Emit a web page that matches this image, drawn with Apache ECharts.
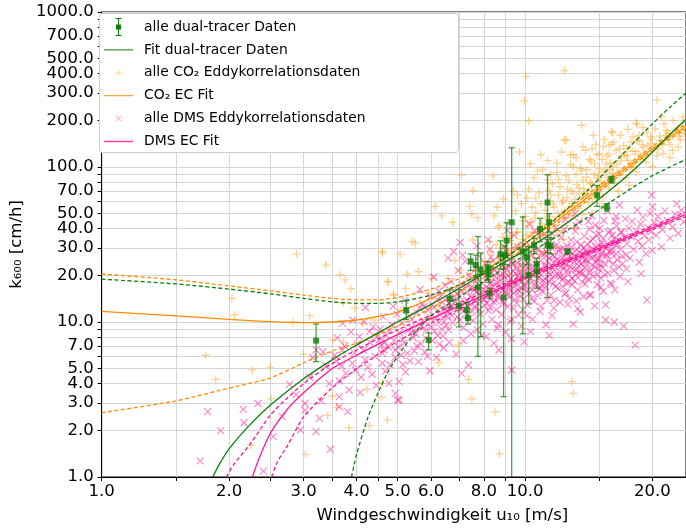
<!DOCTYPE html>
<html>
<head>
<meta charset="utf-8">
<script src="https://cdn.jsdelivr.net/npm/echarts@6/dist/echarts.min.js"></script>
<style>
  html, body { margin: 0; padding: 0; background: #fff; }
  #chart { width: 686px; height: 529px; }
</style>
</head>
<body>
<div id="chart"></div>
<script>
// --- Achsen: Ticks und Beschriftungen ---
const xTickVals = [1, 1.5, 2, 2.5, 3, 3.5, 4, 4.5, 5, 6, 7, 8, 9, 10, 15, 20]
const xLabelVals = [1, 2, 3, 4, 5, 6, 8, 10, 20]
const yTickVals = [1, 2, 3, 4, 5, 6, 7, 8, 9, 10, 20, 30, 40, 50, 60, 70, 80, 90,
  100, 200, 300, 400, 500, 600, 700, 800, 900, 1000]
const yLabelVals = [1, 2, 3, 4, 5, 7, 10, 20, 30, 40, 50, 70, 100, 200, 300, 400, 500, 700, 1000]

// --- dual-tracer Messungen: u10, k600, untere / obere Fehlergrenze ---
const dtU  = [3.21, 5.24, 5.92, 6.64, 6.98, 7.28, 7.33, 7.44, 7.65, 7.74, 7.86, 8.17, 8.2, 8.24, 8.75, 8.9, 8.97, 9.05, 9.3, 9.88, 10.1, 10.2, 10.5, 10.66, 10.66, 10.85, 11.3, 11.4, 11.3, 11.5, 12.6, 14.8, 15.6, 16.0]
const dtK  = [7.58, 11.9, 7.66, 14.1, 12.7, 12.0, 10.6, 24.6, 23.3, 16.7, 21.8, 22.5, 20.3, 15.3, 27.4, 14.4, 27.0, 33.5, 44.0, 28.5, 26.1, 20.1, 31.3, 23.6, 21.3, 39.8, 59.0, 44.0, 31.2, 31.0, 28.5, 65.8, 55.0, 83.0]
const dtLo = [5.55, 10.4, 6.6, 12.3, 9.3, 10.6, 9.7, 21.5, 20.0, 6.0, 8.05, 18.7, 18.0, 14.2, 22.0, 3.3, 23.5, 26.0, 0.5, 8.4, 23.5, 13.1, 27.5, 16.5, 19.5, 33.0, 14.4, 38.0, 28.0, 27.5, 27.5, 55.7, 52.0, 79.0]
const dtHi = [9.7, 13.7, 8.5, 16.1, 16.1, 13.3, 11.6, 27.5, 27.0, 35.6, 27.9, 24.5, 22.5, 16.5, 33.4, 27.0, 31.0, 43.6, 133, 47.6, 29.0, 30.6, 34.6, 25.8, 23.5, 46.6, 89.0, 50.0, 34.0, 35.0, 29.5, 76.0, 58.0, 87.0]

// --- Fitkurven ---
const fitDt = [[1.83, 1.0], [1.9, 1.22], [2.0, 1.52], [2.25, 2.2], [2.5, 2.9], [3.0, 4.3], [3.5, 5.7], [4.0, 7.1], [4.5, 8.5], [5.0, 10.0], [6.0, 13.0], [7.0, 16.5], [8.0, 20.5], [9.0, 24.5], [10.0, 29.0], [12.0, 40.0], [14.0, 54.0], [16.0, 72.0], [18.0, 95.0], [20.0, 125], [22.0, 162], [24.0, 203]]
const fitDtHi = [[1.0, 18.9], [1.5, 17.6], [2.0, 16.3], [2.5, 15.2], [3.0, 14.2], [3.5, 13.5], [4.0, 13.2], [4.5, 13.2], [5.0, 13.5], [6.0, 14.9], [7.0, 17.4], [8.0, 21.0], [9.0, 26.0], [10.0, 32.0], [12.0, 48.0], [14.0, 70.0], [16.0, 102], [18.0, 142], [20.0, 190], [22.0, 243], [24.0, 300]]
const fitDtLo = [[3.89, 1.0], [3.95, 1.2], [4.0, 1.4], [4.25, 2.4], [4.5, 3.5], [4.75, 4.8], [5.0, 6.0], [5.5, 8.6], [6.0, 11.0], [7.0, 14.5], [8.0, 18.3], [9.0, 22.5], [10.0, 27.0], [12.0, 36.0], [14.0, 47.0], [16.0, 60.0], [18.0, 74.0], [20.0, 88.0], [22.0, 100], [24.0, 112]]

const fitCo2 = [[1.0, 11.7], [1.5, 10.95], [2.0, 10.4], [2.5, 10.05], [3.0, 9.92], [3.5, 10.0], [4.0, 10.3], [5.0, 11.6], [6.0, 14.2], [7.0, 17.4], [8.0, 21.4], [9.0, 26.3], [10.0, 32.0], [12.0, 46.0], [14.0, 63.0], [16.0, 83.0], [18.0, 106], [20.0, 131], [22.0, 157], [24.0, 182]]
const fitCo2Hi = [[1.0, 20.4], [1.5, 18.7], [2.0, 17.1], [2.5, 15.9], [3.0, 14.9], [3.5, 14.2], [4.0, 13.9], [4.5, 13.9], [5.0, 14.4], [6.0, 16.3], [7.0, 19.1], [8.0, 23.0], [9.0, 28.0], [10.0, 34.0], [12.0, 48.5], [14.0, 66.0], [16.0, 86.5], [18.0, 110], [20.0, 136], [22.0, 163], [24.0, 189]]
const fitCo2Lo = [[1.0, 2.6], [1.5, 3.1], [2.0, 3.75], [2.5, 4.35], [3.0, 5.45], [3.5, 6.5], [4.0, 7.3], [5.0, 9.4], [6.0, 12.3], [7.0, 15.6], [8.0, 19.8], [9.0, 24.6], [10.0, 30.0], [12.0, 44.0], [14.0, 60.5], [16.0, 80.0], [18.0, 102.5], [20.0, 127], [22.0, 152], [24.0, 176]]

const fitDms = [[2.27, 1.0], [2.35, 1.3], [2.5, 1.9], [2.75, 2.75], [3.0, 3.5], [3.5, 5.0], [4.0, 6.1], [4.5, 7.2], [5.0, 8.3], [6.0, 10.5], [7.0, 12.7], [8.0, 14.9], [9.0, 17.2], [10.0, 19.5], [12.0, 23.6], [14.0, 27.8], [16.0, 32.0], [18.0, 36.3], [20.0, 40.5], [22.0, 45.0], [24.0, 49.5]]
const fitDmsHi = [[1.97, 1.0], [2.05, 1.2], [2.25, 1.65], [2.5, 2.5], [2.75, 3.25], [3.0, 4.0], [3.5, 5.4], [4.0, 6.6], [4.5, 7.8], [5.0, 8.9], [6.0, 11.1], [7.0, 13.3], [8.0, 15.5], [9.0, 17.8], [10.0, 20.1], [12.0, 24.3], [14.0, 28.6], [16.0, 32.9], [18.0, 37.3], [20.0, 41.7], [22.0, 46.4], [24.0, 51.2]]
const fitDmsLo = [[2.52, 1.0], [2.6, 1.25], [2.75, 1.6], [3.0, 2.44], [3.5, 3.75], [4.0, 5.0], [4.5, 6.2], [5.0, 7.5], [6.0, 9.8], [7.0, 12.1], [8.0, 14.4], [9.0, 16.7], [10.0, 19.0], [12.0, 23.0], [14.0, 27.1], [16.0, 31.2], [18.0, 35.4], [20.0, 39.5], [22.0, 43.8], [24.0, 48.0]]

// --- CO2 Eddykorrelationsdaten [u10, k600] ---
const co2Eddy = [
  [1.76, 6.1], [1.86, 4.27], [2.03, 14.2], [2.06, 11.1], [2.27, 4.9], [2.5, 5.1], [2.52, 3.19], [2.25, 1.6], [2.83, 10.0], [2.89, 27.4],
  [3.0, 6.2], [3.03, 1.4], [3.1, 11.0], [3.39, 23.3], [3.42, 2.5], [3.51, 3.33], [3.59, 2.82], [3.51, 7.66], [3.65, 20.1], [3.72, 13.3],
  [3.72, 7.45], [3.76, 18.7], [3.84, 2.08], [3.88, 16.4], [3.96, 12.3], [4.13, 9.8], [4.23, 3.68], [4.29, 2.14], [4.4, 10.3], [4.58, 3.27],
  [4.6, 27.8], [4.6, 4.02], [4.73, 2.33], [4.73, 18.2], [4.76, 18.2], [4.89, 15.1], [4.9, 14.9], [7.49, 3.19], [8.5, 2.64], [8.7, 1.41],
  [13.0, 3.46], [12.9, 4.12], [7.35, 4.27], [6.25, 5.46], [6.96, 7.1],
  [12.4, 419], [10.05, 383], [9.96, 267], [10.2, 198], [13.6, 186], [20.5, 270], [18.4, 189], [16.1, 167], [7.08, 88.6], [8.4, 87.6],
  [7.53, 70.5], [9.7, 125], [10.3, 105], [10.7, 94], [11.9, 106], [12.4, 149], [13.7, 135], [14.4, 131], [15.3, 135], [17.4, 131],
  [18.6, 149], [21.2, 122], [23.0, 135], [13.0, 120], [14.3, 109], [15.9, 106], [16.7, 131], [18.0, 157], [19.8, 157], [21.6, 172], [23.2, 165],
  [6.14, 55.7], [6.36, 48.4], [6.75, 44], [7.4, 55.7], [7.49, 49.7], [7.74, 47.1], [8.45, 48.4], [8.7, 42], [9.6, 66], [10.1, 63],
  [10.6, 63], [11.3, 82.6], [12.1, 74.6], [13.0, 67.6], [13.7, 64.4], [5.41, 33], [5.5, 32.3], [4.6, 28.5], [5.07, 27.4], [5.6, 21.1],
  [5.27, 20.4], [7.03, 21.6], [6.83, 25], [7.53, 33.8], [8.24, 33.1], [8.65, 41], [9.6, 38.2], [10.1, 36.3], [6.58, 19.1], [7.15, 17.7],
  [8.34, 15.7], [5.22, 16.5], [5.92, 15.3], [6.03, 19.1], [5.96, 10.5], [6.25, 12.7], [5.1, 12.0],
  [8.05, 24.5], [8.15, 19.0], [8.3, 28.3], [8.45, 22.1], [8.55, 31.6], [8.6, 18.5], [8.75, 26.9], [8.85, 35.2], [8.95, 23.0], [9.05, 29.8],
  [9.15, 20.4], [9.25, 33.5], [9.35, 27.1], [9.45, 24.0], [9.55, 37.8], [9.65, 30.4], [9.75, 22.7], [9.85, 34.1], [9.95, 27.9], [8.2, 16.0],
  [9.1, 44.0], [9.5, 52.0], [10.05, 31.2], [10.15, 41.5], [10.25, 25.6], [10.35, 35.9], [10.45, 29.3], [10.55, 46.8], [10.65, 33.0], [10.75, 39.4],
  [10.85, 27.4], [10.95, 43.1], [11.05, 36.2], [11.15, 52.6], [11.25, 31.8], [11.35, 40.7], [11.45, 48.0], [11.55, 35.0], [11.65, 57.9], [11.75, 42.3],
  [11.85, 38.1], [11.95, 50.4], [10.4, 55.0], [11.1, 28.5], [11.5, 66.0], [11.8, 30.2], [12.05, 45.6], [12.15, 39.0], [12.25, 58.7], [12.35, 49.3],
  [12.45, 42.0], [12.55, 63.5], [12.65, 53.1], [12.75, 46.7], [12.85, 70.2], [12.95, 56.4], [13.05, 48.8], [13.15, 61.9], [13.25, 77.0], [13.35, 54.2],
  [13.45, 66.8], [13.55, 58.3], [13.65, 49.5], [13.75, 72.4], [13.85, 63.0], [13.95, 86.0], [12.3, 34.0], [13.1, 40.5], [13.6, 95.0], [12.7, 82.0],
  [14.05, 67.5], [14.15, 58.9], [14.25, 79.8], [14.35, 70.6], [14.45, 62.3], [14.55, 90.1], [14.65, 75.2], [14.75, 66.4], [14.85, 84.7], [14.95, 97.3],
  [15.05, 71.8], [15.15, 80.9], [15.25, 64.0], [15.35, 92.6], [15.45, 77.6], [15.55, 104], [15.65, 85.3], [15.75, 73.1], [15.85, 96.5], [15.95, 82.2],
  [14.4, 50.5], [15.2, 55.8], [15.6, 118], [16.1, 91.0], [16.3, 78.4], [16.5, 104.5], [16.7, 88.2], [16.9, 118], [17.1, 96.7], [17.3, 84.9],
  [17.5, 110.3], [17.7, 99.1], [17.9, 126], [18.1, 107.6], [18.3, 93.0], [18.5, 121.4], [18.7, 112], [18.9, 139], [16.6, 70.0], [17.6, 76.5],
  [18.4, 147], [17.2, 120], [19.1, 123], [19.3, 108], [19.5, 137.5], [19.7, 126], [19.9, 152], [20.2, 134], [20.5, 118.5], [20.8, 148],
  [21.1, 139], [21.5, 160], [21.9, 151], [22.3, 128], [22.7, 170], [23.1, 158], [23.5, 182], [23.8, 166], [20.0, 101], [22.0, 115],
  [10.2, 72], [10.5, 85], [10.8, 68], [11.0, 96], [11.3, 110], [11.6, 78], [11.9, 92], [12.2, 125], [12.5, 88], [12.8, 104],
  [13.2, 115], [13.5, 98], [13.9, 128], [14.2, 112], [14.7, 140], [15.0, 122], [15.4, 150], [15.8, 138], [16.2, 145], [16.8, 160],
  [17.5, 175], [10.9, 120], [9.8, 58], [9.4, 70], [8.9, 62], [8.6, 55], [11.4, 60], [12.0, 66], [12.5, 149], [16.0, 169], [18.3, 192],
  [10.3, 44], [10.6, 51], [10.9, 58], [11.2, 47], [11.4, 71], [11.7, 55], [12.0, 83], [12.3, 61], [12.6, 72], [12.9, 58],
  [13.2, 90], [13.4, 73], [13.7, 82], [14.0, 96], [14.3, 78], [14.6, 105], [14.9, 88], [15.2, 112], [15.5, 94], [15.8, 121],
  [16.1, 101], [16.4, 128], [16.8, 110], [17.1, 137], [17.4, 118], [17.8, 145], [18.2, 126], [18.6, 160], [19.0, 134], [19.4, 168],
  [19.8, 141], [20.3, 176], [20.8, 158], [21.3, 190], [21.8, 165], [22.4, 200], [23.0, 178], [23.6, 210], [11.0, 40], [12.4, 52],
  [13.8, 68], [15.1, 75], [16.5, 92], [17.9, 100], [19.2, 115], [20.6, 130], [22.0, 140], [23.3, 150], [10.0, 48], [11.5, 90],
  [12.8, 120], [14.5, 160], [9.2, 36], [9.9, 45], [8.8, 30], [10.4, 38], [13.0, 100], [14.8, 120], [16.0, 140], [21.0, 210], [19.0, 180]
]

// --- DMS Eddykorrelationsdaten [u10, k600] ---
const dmsEddy = [
  [1.71, 1.27], [1.78, 2.64], [1.91, 1.99], [2.16, 2.73], [2.17, 2.24], [2.34, 2.98], [2.41, 1.09], [2.54, 1.82], [2.67, 2.45], [2.78, 3.96],
  [2.95, 2.01], [3.21, 1.96], [3.27, 2.39], [3.02, 2.7], [3.47, 1.51], [3.21, 6.6], [3.33, 6.43], [3.39, 5.2], [3.02, 2.98], [2.88, 3.4],
  [3.1, 4.4], [3.3, 3.1], [3.45, 4.0], [3.15, 5.9],
  [3.55, 6.1], [3.6, 7.9], [3.64, 4.18], [3.69, 5.2], [3.77, 4.66], [3.98, 4.9], [3.64, 3.3], [3.84, 3.64], [3.64, 2.84], [3.81, 2.64],
  [3.71, 9.8], [4.06, 8.05], [4.17, 10.05], [4.29, 8.66], [3.91, 5.42], [4.19, 5.69], [3.75, 7.0], [3.88, 8.6], [3.95, 6.3], [4.02, 7.2],
  [4.1, 4.4], [4.15, 6.6], [4.25, 5.1], [4.3, 7.4], [4.38, 9.3], [4.42, 6.0], [4.45, 3.9], [3.58, 5.6], [3.92, 10.3], [4.08, 3.5],
  [4.35, 4.6], [4.48, 8.1], [3.7, 6.6], [4.2, 12.4],
  [4.52, 7.66], [4.6, 6.27], [4.77, 4.02], [4.94, 3.46], [5.04, 3.14], [4.94, 6.6], [4.6, 5.42], [4.64, 6.6], [5.22, 4.77], [5.04, 4.12],
  [5.0, 3.14], [4.55, 9.0], [4.62, 10.8], [4.7, 8.2], [4.75, 6.9], [4.8, 5.3], [4.85, 9.6], [4.9, 7.6], [4.98, 11.2], [5.05, 8.5],
  [5.1, 6.1], [5.12, 9.9], [5.18, 7.3], [5.25, 12.0], [5.3, 8.8], [5.35, 5.6], [5.4, 10.4], [5.45, 7.9], [5.48, 6.5], [4.68, 4.8],
  [4.88, 12.6], [5.2, 13.8], [5.38, 9.2], [4.58, 7.1], [5.15, 5.3],
  [5.02, 6.9], [5.14, 7.7], [5.27, 6.3], [5.41, 8.6], [5.56, 7.0], [5.69, 9.3], [5.83, 7.9], [5.97, 10.7], [6.11, 8.7], [6.26, 9.9],
  [6.4, 8.1], [6.54, 11.8], [4.66, 7.4], [4.79, 8.9], [4.93, 5.9], [5.33, 10.9], [5.63, 12.3], [6.03, 12.9], [6.33, 14.7], [6.6, 8.9],
  [5.52, 8.4], [5.55, 11.5], [5.6, 5.55], [5.62, 9.7], [5.68, 7.2], [5.72, 13.1], [5.75, 10.2], [5.8, 6.4], [5.85, 8.9], [5.9, 11.9],
  [5.96, 4.85], [5.98, 14.6], [6.02, 9.3], [6.05, 7.6], [6.1, 12.4], [6.15, 10.6], [6.18, 5.9], [6.22, 8.2], [6.25, 15.8], [6.3, 11.1],
  [6.35, 9.0], [6.38, 13.4], [6.42, 6.8], [6.45, 10.1], [6.48, 17.2], [5.65, 16.2], [5.88, 6.0], [6.08, 19.5], [6.28, 7.2], [5.78, 12.6],
  [6.4, 12.0], [6.2, 13.9],
  [6.52, 9.5], [6.55, 14.2], [6.6, 11.6], [6.62, 7.4], [6.68, 18.3], [6.7, 12.8], [6.75, 9.9], [6.8, 16.0], [6.85, 13.6], [6.88, 6.2],
  [6.92, 10.8], [6.96, 21.5], [7.0, 14.8], [7.03, 32.6], [7.05, 12.1], [7.08, 4.66], [7.1, 17.5], [7.15, 9.2], [7.2, 13.3], [7.22, 24.6],
  [7.25, 11.4], [7.3, 15.7], [7.35, 5.28], [7.38, 19.8], [7.42, 12.9], [7.45, 8.4], [7.48, 16.6], [6.58, 25.8], [6.78, 28.5], [7.12, 27.0],
  [7.4, 10.6], [6.9, 15.2], [7.28, 13.9], [6.65, 12.2],
  [7.52, 14.1], [7.55, 10.2], [7.58, 18.7], [7.62, 12.5], [7.65, 22.3], [7.68, 15.6], [7.72, 8.9], [7.75, 13.2], [7.78, 17.3], [7.8, 26.5],
  [7.85, 11.3], [7.88, 14.8], [7.92, 20.4], [7.95, 9.7], [8.0, 16.2], [8.02, 12.8], [8.05, 23.8], [8.1, 8.05], [8.12, 15.1], [8.15, 18.9],
  [8.2, 11.8], [8.25, 29.5], [8.28, 14.2], [8.32, 21.1], [8.35, 10.4], [8.38, 16.9], [8.42, 13.5], [8.45, 7.3], [8.48, 19.6], [7.7, 31.0],
  [8.18, 34.0], [7.98, 13.9], [8.3, 17.8], [7.6, 16.4], [8.4, 24.7],
  [8.52, 15.4], [8.55, 12.0], [8.58, 20.7], [8.62, 17.1], [8.65, 9.6], [8.7, 14.3], [8.72, 25.3], [8.75, 18.6], [8.8, 11.2], [8.82, 22.9],
  [8.85, 16.0], [8.9, 13.1], [8.92, 30.8], [8.95, 19.4], [9.0, 8.6], [9.02, 15.9], [9.05, 21.8], [9.1, 12.6], [9.12, 17.7], [9.15, 27.4],
  [9.2, 14.6], [9.22, 10.1], [9.25, 19.0], [9.3, 4.9], [9.32, 23.5], [9.35, 16.4], [9.4, 12.2], [9.42, 36.2], [9.45, 18.1], [9.48, 14.0],
  [8.68, 6.6], [9.08, 39.0], [8.88, 20.2], [9.28, 7.8], [9.38, 21.3],
  [9.52, 17.5], [9.55, 13.3], [9.6, 24.1], [9.62, 19.8], [9.65, 11.1], [9.7, 15.8], [9.72, 28.9], [9.75, 21.0], [9.8, 16.7], [9.82, 9.4],
  [9.85, 18.4], [9.9, 25.9], [9.92, 14.1], [9.96, 7.45], [10.0, 20.6], [10.05, 17.0], [10.1, 32.5], [10.12, 12.9], [10.18, 22.4], [10.22, 15.3],
  [10.28, 19.1], [10.3, 8.66], [10.35, 26.8], [10.4, 16.2], [10.45, 21.7], [10.5, 13.6], [10.55, 38.8], [10.6, 18.0], [10.65, 23.6], [10.7, 14.8],
  [10.75, 29.7], [10.8, 19.5], [10.85, 11.7], [10.9, 24.9], [10.95, 17.3], [9.58, 30.6], [10.25, 43.0], [9.68, 20.9], [10.02, 23.3], [10.42, 10.4],
  [10.72, 20.8], [10.88, 16.5], [9.88, 12.0], [10.15, 18.2], [10.62, 28.0],
  [11.0, 21.4], [11.05, 15.6], [11.1, 27.3], [11.15, 19.0], [11.2, 9.6], [11.22, 23.1], [11.28, 13.8], [11.3, 33.6], [11.35, 18.3], [11.4, 8.2],
  [11.42, 25.8], [11.48, 20.2], [11.5, 14.9], [11.55, 30.1], [11.6, 22.5], [11.65, 17.6], [11.7, 12.3], [11.75, 26.4], [11.8, 19.9], [11.85, 40.5],
  [11.9, 23.9], [11.95, 16.4], [12.0, 28.7], [12.05, 21.2], [12.1, 13.4], [12.15, 35.2], [12.2, 24.6], [12.25, 18.7], [12.3, 29.9], [12.35, 22.0],
  [12.4, 15.2], [12.45, 46.0], [11.12, 36.8], [11.58, 11.0], [11.88, 31.5], [12.12, 19.6], [12.38, 26.6], [11.25, 28.4], [11.68, 24.0], [12.28, 16.9],
  [12.5, 23.4], [12.55, 17.9], [12.6, 30.8], [12.65, 20.3], [12.7, 26.1], [12.75, 14.2], [12.8, 22.6], [12.85, 33.9], [12.9, 19.2], [12.95, 27.7],
  [13.0, 9.7], [13.05, 24.5], [13.1, 18.4], [13.15, 38.6], [13.2, 21.8], [13.25, 29.3], [13.3, 16.1], [13.35, 25.6], [13.4, 44.3], [13.45, 20.7],
  [13.5, 11.6], [13.55, 31.4], [13.6, 23.7], [13.65, 18.1], [13.7, 27.2], [13.75, 14.6], [13.8, 35.8], [13.85, 22.3], [13.9, 28.8], [13.95, 19.5],
  [12.62, 13.0], [12.92, 17.3], [13.12, 50.0], [13.38, 23.0], [13.62, 20.4], [13.88, 25.2], [12.78, 28.4], [13.22, 13.7],
  [14.0, 24.9], [14.05, 31.7], [14.1, 18.8], [14.15, 27.0], [14.2, 39.8], [14.25, 21.6], [14.3, 15.0], [14.35, 29.6], [14.4, 23.3], [14.45, 34.4],
  [14.5, 19.7], [14.55, 26.3], [14.6, 12.7], [14.65, 42.1], [14.7, 24.2], [14.75, 30.5], [14.8, 17.4], [14.85, 28.1], [14.9, 22.0], [14.95, 36.9],
  [15.0, 25.7], [15.1, 19.1], [15.15, 32.6], [15.2, 27.5], [15.3, 15.8], [15.35, 45.2], [15.4, 23.9], [15.5, 12.9], [15.55, 30.2], [15.6, 26.7],
  [15.7, 20.6], [15.75, 37.8], [15.8, 28.4], [15.9, 17.8], [15.95, 33.1], [15.5, 10.3], [14.38, 48.5], [15.25, 22.4], [15.65, 52.0], [14.82, 20.3],
  [16.05, 27.9], [16.1, 36.4], [16.2, 21.5], [16.25, 10.0], [16.3, 16.1], [16.35, 31.3], [16.45, 41.7], [16.5, 25.2], [16.6, 33.6], [16.7, 56.9],
  [16.75, 19.6], [16.85, 29.5], [16.9, 38.1], [17.0, 23.8], [17.1, 9.4], [17.15, 34.9], [17.25, 46.3], [17.3, 27.1], [17.4, 31.9], [17.5, 18.2],
  [17.6, 40.2], [17.7, 25.8], [17.8, 35.5], [17.9, 44.6], [16.4, 48.0], [17.35, 22.0],
  [18.05, 29.4], [18.2, 7.1], [18.3, 38.7], [18.4, 52.7], [18.5, 33.2], [18.6, 24.3], [18.75, 42.9], [18.9, 30.8], [19.0, 47.5], [19.15, 36.1],
  [19.3, 27.6], [19.4, 13.9], [19.5, 40.8], [19.6, 33.9], [19.75, 50.2], [19.85, 38.3], [19.9, 66.0], [19.95, 29.0], [18.8, 20.5],
  [20.0, 55.4], [20.2, 43.7], [20.4, 36.2], [20.6, 47.9], [20.9, 43.3], [21.1, 39.5], [21.4, 52.1], [21.7, 45.0], [22.0, 34.8], [22.3, 41.0],
  [22.6, 49.6], [23.0, 37.4], [23.4, 52.7], [23.7, 44.2], [21.0, 30.5], [22.8, 58.0],
  [6.55, 10.9], [6.63, 13.1], [6.72, 11.0], [6.81, 14.4], [6.93, 12.4], [7.01, 10.3], [7.07, 15.9], [7.18, 11.9], [7.27, 17.0], [7.33, 12.6],
  [7.44, 14.5], [7.5, 11.7], [7.57, 16.0], [7.63, 13.7], [7.71, 19.0], [7.79, 12.0], [7.86, 15.9], [7.93, 17.6], [8.01, 14.0], [8.07, 19.8],
  [8.14, 13.3], [8.21, 16.5], [8.27, 12.4], [8.34, 18.2], [8.41, 15.2], [8.47, 21.9], [8.53, 13.8], [8.6, 17.9], [8.67, 15.0], [8.74, 20.0],
  [8.81, 16.6], [8.87, 13.6], [8.94, 17.0], [9.01, 22.4], [9.07, 14.9], [9.14, 19.9], [9.21, 16.3], [9.27, 24.6], [9.34, 18.0], [9.41, 15.3],
  [9.47, 20.5], [9.54, 22.6], [9.61, 16.1], [9.67, 18.7], [9.74, 14.6], [9.81, 23.4], [9.87, 19.6], [9.94, 17.1], [10.01, 21.6], [10.08, 15.8],
  [10.16, 24.0], [10.23, 18.6], [10.31, 20.8], [10.38, 14.2], [10.47, 22.9], [10.54, 17.4], [10.63, 25.3], [10.71, 19.2], [10.79, 16.4], [10.87, 21.9],
  [10.96, 27.5], [11.04, 18.5], [11.13, 22.8], [11.21, 16.9], [11.29, 24.8], [11.38, 20.7], [11.46, 31.2], [11.54, 18.9], [11.63, 26.9], [11.72, 21.6],
  [11.81, 17.0], [11.89, 25.4], [11.98, 20.0], [12.07, 29.4], [12.16, 22.8], [12.24, 26.0], [12.33, 19.4], [12.42, 24.1], [12.51, 27.9], [12.6, 21.5],
  [12.69, 18.0], [12.78, 25.0], [12.87, 30.3], [12.96, 22.1], [13.06, 26.8], [13.16, 20.1], [13.26, 32.9], [13.36, 24.4], [13.46, 28.1], [13.56, 21.2],
  [13.66, 25.9], [13.76, 30.0], [13.86, 17.6], [13.96, 23.8], [14.07, 27.6], [14.18, 21.0], [14.29, 33.2], [14.4, 26.0], [14.51, 29.4], [14.62, 22.6],
  [14.73, 36.3], [14.84, 25.5], [14.96, 31.0], [15.07, 23.4], [15.18, 28.0], [15.3, 34.6], [15.42, 20.2], [15.54, 27.2], [15.66, 31.5], [15.78, 24.8],
  [15.9, 38.9], [16.02, 29.0], [16.15, 23.7], [16.28, 34.3], [16.41, 27.5], [16.55, 31.9], [16.68, 22.6], [16.82, 37.8], [16.96, 26.6], [7.15, 7.6],
  [7.9, 8.2], [8.6, 9.1], [9.3, 10.4], [10.1, 11.0], [10.9, 12.6], [11.7, 13.8], [12.5, 15.4], [13.3, 12.2], [14.2, 14.9], [15.1, 16.8],
  [16.0, 17.5], [8.3, 26.2], [9.0, 28.5], [9.9, 31.4], [10.8, 35.4], [11.6, 37.2], [12.4, 39.5], [13.2, 41.8], [14.1, 44.7], [15.0, 40.2], [16.3, 45.0]
]

// --- Farben ---
const cGreen = '#0a800a'
const cOrange = '#ff8c00'
const cPink = '#ff1493'
const font = 'DejaVu Sans'

const chart = echarts.init(document.getElementById('chart'))

const dtPoints = dtU.map((u, i) => [u, dtK[i]])
const dtBars = dtU.map((u, i) => [u, dtLo[i], dtHi[i]])

// Fehlerbalken mit Kappen
function renderErrorBar (params, api) {
  const u = api.value(0)
  const top = api.coord([u, api.value(2)])
  const bot = api.coord([u, api.value(1)])
  const w = 3
  const style = { stroke: 'rgba(0,128,0,0.72)', lineWidth: 1.3 }
  return {
    type: 'group',
    children: [
      { type: 'line', shape: { x1: top[0], y1: top[1], x2: bot[0], y2: bot[1] }, style },
      { type: 'line', shape: { x1: top[0] - w, y1: top[1], x2: top[0] + w, y2: top[1] }, style },
      { type: 'line', shape: { x1: bot[0] - w, y1: bot[1], x2: bot[0] + w, y2: bot[1] }, style }
    ]
  }
}

const fitLine = (name, data, color, dashed) => ({
  name,
  type: 'line',
  data,
  smooth: 0.25,
  symbol: 'none',
  silent: true,
  z: 4,
  lineStyle: { color, width: 1.3, type: dashed ? [4, 2.5] : 'solid' },
  itemStyle: { color }
})

// Legendensymbole (29x18 Box)
const box = 'M0,0h0.01v0.01h-0.01Z M28.99,17.99h0.01v0.01h-0.01Z '
const iconErr = 'path://' + box + 'M11.5,0H17.5V1H11.5Z M14,0H15V18H14Z M11.5,17H17.5V18H11.5Z M12,6.5H17V11.5H12Z'
const iconPlus = 'path://' + box + 'M14,6H15V12H14Z M11.5,8.5H17.5V9.5H11.5Z'
const iconCross = 'path://' + box + 'M11.5,6.7L12.2,6L17.5,11.3L16.8,12Z M16.8,6L17.5,6.7L12.2,12L11.5,11.3Z'
const iconLine = 'path://' + box + 'M0,8.35H29V9.65H0Z'

const option = {
  animation: false,
  backgroundColor: '#fff',
  textStyle: { fontFamily: font },
  grid: {
    left: 97, right: -1, top: 12, bottom: 52,
    show: true, borderColor: '#000', borderWidth: 1, backgroundColor: 'transparent'
  },
  graphic: [{
    type: 'rect', left: 99, top: 13, z: 50,
    shape: { width: 359, height: 139, r: 3 },
    style: { fill: '#fff', stroke: '#cccccc', lineWidth: 1 }
  }],
  legend: {
    left: 104, top: 18, orient: 'vertical', z: 60,
    itemWidth: 29, itemHeight: 18, itemGap: 4.9, padding: 0,
    textStyle: { fontFamily: font, fontSize: 13.9, color: '#000', padding: [0, 0, 0, 6] },
    data: [
      { name: 'alle dual-tracer Daten', icon: iconErr, itemStyle: { color: cGreen, borderWidth: 0 } },
      { name: 'Fit dual-tracer Daten', icon: iconLine, itemStyle: { color: '#3c9c3c', borderWidth: 0 } },
      { name: 'alle CO₂ Eddykorrelationsdaten', icon: iconPlus, itemStyle: { color: 'rgba(255,165,0,0.5)', borderWidth: 0 } },
      { name: 'CO₂ EC Fit', icon: iconLine, itemStyle: { color: '#ffa33c', borderWidth: 0 } },
      { name: 'alle DMS Eddykorrelationsdaten', icon: iconCross, itemStyle: { color: 'rgba(255,20,147,0.45)', borderWidth: 0 } },
      { name: 'DMS EC Fit', icon: iconLine, itemStyle: { color: '#ff3fa6', borderWidth: 0 } }
    ]
  },
  xAxis: {
    type: 'log', logBase: 10, min: 1, max: 24,
    name: 'Windgeschwindigkeit u₁₀ [m/s]',
    nameLocation: 'middle', nameGap: 30,
    nameTextStyle: { fontFamily: font, fontSize: 16.5, color: '#000', padding: [0, 0, 0, 97] },
    axisLine: { lineStyle: { color: '#000', width: 1 } },
    axisTick: { customValues: xTickVals, length: 4, lineStyle: { color: '#000' } },
    axisLabel: {
      customValues: xLabelVals, margin: 6,
      fontFamily: font, fontSize: 16.5, color: '#000',
      formatter: v => Number(v).toFixed(1)
    },
    splitLine: { show: true, lineStyle: { color: '#d5d5d5', width: 1 } },
    minorTick: { show: false }, minorSplitLine: { show: false }
  },
  yAxis: {
    type: 'log', logBase: 10, min: 1, max: 1000,
    name: 'k₆₀₀ [cm/h]',
    nameLocation: 'middle', nameGap: 70, nameRotate: 90,
    nameTextStyle: { fontFamily: font, fontSize: 16.5, color: '#000' },
    axisLine: { lineStyle: { color: '#000', width: 1 } },
    axisTick: { customValues: yTickVals, length: 4, lineStyle: { color: '#000' } },
    axisLabel: {
      customValues: yLabelVals, margin: 8,
      fontFamily: font, fontSize: 16.5, color: '#000',
      formatter: v => Number(v).toFixed(1)
    },
    splitLine: { show: true, lineStyle: { color: '#d5d5d5', width: 1 } },
    minorTick: { show: false }, minorSplitLine: { show: false }
  },
  series: [
    {
      name: 'alle CO₂ Eddykorrelationsdaten', type: 'scatter', data: co2Eddy, silent: true, z: 2,
      symbol: 'path://M3,0V6M0,3H6', symbolSize: 8,
      itemStyle: { color: 'transparent', borderColor: 'rgba(255,160,20,0.6)', borderWidth: 1.3 }
    },
    {
      name: 'alle DMS Eddykorrelationsdaten', type: 'scatter', data: dmsEddy, silent: true, z: 2,
      symbol: 'path://M0,0L6,6M6,0L0,6', symbolSize: 7,
      itemStyle: { color: 'transparent', borderColor: 'rgba(255,20,147,0.62)', borderWidth: 1.2 }
    },
    fitLine('CO₂ EC Fit', fitCo2, cOrange, false),
    fitLine('CO₂ EC Fit oben', fitCo2Hi, cOrange, true),
    fitLine('CO₂ EC Fit unten', fitCo2Lo, cOrange, true),
    fitLine('DMS EC Fit', fitDms, cPink, false),
    fitLine('DMS EC Fit oben', fitDmsHi, cPink, true),
    fitLine('DMS EC Fit unten', fitDmsLo, cPink, true),
    {
      name: 'alle dual-tracer Daten', type: 'custom', data: dtBars, silent: true, z: 5, clip: true,
      encode: { x: 0, y: [1, 2] },
      renderItem: renderErrorBar
    },
    {
      name: 'alle dual-tracer Daten', type: 'scatter', data: dtPoints, silent: true, z: 6,
      symbol: 'rect', symbolSize: 6, itemStyle: { color: cGreen }
    },
    fitLine('Fit dual-tracer Daten', fitDt, cGreen, false),
    fitLine('Fit dual-tracer oben', fitDtHi, cGreen, true),
    fitLine('Fit dual-tracer unten', fitDtLo, cGreen, true)
  ]
}

chart.setOption(option)
</script>
</body>
</html>
